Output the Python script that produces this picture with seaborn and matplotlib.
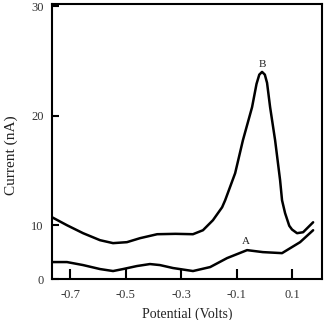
import numpy as np
import pandas as pd
import matplotlib
matplotlib.use("Agg")
import matplotlib.pyplot as plt
import seaborn as sns

# Curve B (upper)
b_potential = [-0.765, -0.711, -0.653, -0.592, -0.545, -0.495, -0.448, -0.386, -0.320, -0.257,
               -0.221, -0.185, -0.152, -0.141, -0.105, -0.077, -0.044, -0.028, -0.018, -0.008,
               0.002, 0.010, 0.021, 0.039, 0.057, 0.064, 0.075, 0.090, 0.100, 0.118, 0.140,
               0.176]
b_current = [10.73, 10.0, 8.52, 7.22, 6.67, 6.85, 7.59, 8.33, 8.40, 8.33,
             9.07, 10.46, 11.64, 12.28, 14.75, 17.76, 20.78, 22.90, 23.75, 24.0,
             23.75, 23.0, 20.78, 17.76, 14.11, 12.28, 11.10, 9.90, 9.20, 8.52, 8.70,
             10.27]
# Curve A (lower)
a_potential = [-0.765, -0.711, -0.653, -0.592, -0.545, -0.509, -0.459, -0.412, -0.376, -0.329,
               -0.257, -0.195, -0.134, -0.062, -0.005, 0.064, 0.129, 0.176]
a_current = [3.15, 3.15, 2.59, 1.85, 1.48, 1.85, 2.41, 2.78, 2.59, 2.04,
             1.48, 2.22, 3.89, 5.37, 5.00, 4.81, 6.85, 9.07]

x_ticks = [-0.7, -0.5, -0.3, -0.1, 0.1]
x_tick_labels = ["-0.7", "-0.5", "-0.3", "-0.1", "0.1"]
y_ticks = [0, 10, 20, 30]
y_tick_labels = ["0", "10", "20", "30"]

sns.set_style("ticks")
plt.rcParams['font.family'] = ['Liberation Serif', 'DejaVu Serif']

df = pd.concat([
    pd.DataFrame({"Potential": b_potential, "Current": b_current, "curve": "B"}),
    pd.DataFrame({"Potential": a_potential, "Current": a_current, "curve": "A"}),
])

fig = plt.figure(figsize=(3.26, 3.20), dpi=100)
ax = fig.add_axes([52/326, 41/320, 270/326, 275/320])

r = 54.0 / 110.0
def fwd(y):
    y = np.asarray(y, dtype=float)
    return np.where(y < 10, 10 - (10 - y) * r, y)
def inv(u):
    u = np.asarray(u, dtype=float)
    return np.where(u < 10, 10 - (10 - u) / r, u)
ax.set_yscale('function', functions=(fwd, inv))

sns.lineplot(data=df, x="Potential", y="Current", units="curve", estimator=None,
             sort=False, color="black", linewidth=1.8, ax=ax, legend=False)
for l in ax.get_lines():
    l.set_solid_joinstyle("round")
    l.set_solid_capstyle("round")

ax.text(-0.008, 24.7, "B", ha="center", va="center", fontsize=8, color="#222222")
ax.text(-0.066, 7.0, "A", ha="center", va="center", fontsize=8, color="#222222")

ax.set_xlim(-0.765, 0.208)
ax.set_ylim(0, 30.2)
ax.set_xticks(x_ticks)
ax.set_xticklabels(x_tick_labels)
ax.set_yticks(y_ticks)
ax.set_yticklabels(y_tick_labels)
ax.minorticks_off()
ax.tick_params(axis='x', direction='in', length=7, width=1.5, labelsize=9, pad=7,
               color='black', labelcolor='#333333')
ax.tick_params(axis='y', direction='in', length=5, width=1.5, labelsize=9, pad=6,
               color='black', labelcolor='#333333')
for s in ax.spines.values():
    s.set_linewidth(1.5)
    s.set_color('black')
ax.set_xlabel("Potential (Volts)", fontsize=10, labelpad=5, color='#222222')
ax.set_ylabel("Current (nA)", fontsize=11, color='#222222')
ax.yaxis.set_label_coords(-0.125, 0.45)
ax.grid(False)

fig.savefig("out.png", dpi=100)
